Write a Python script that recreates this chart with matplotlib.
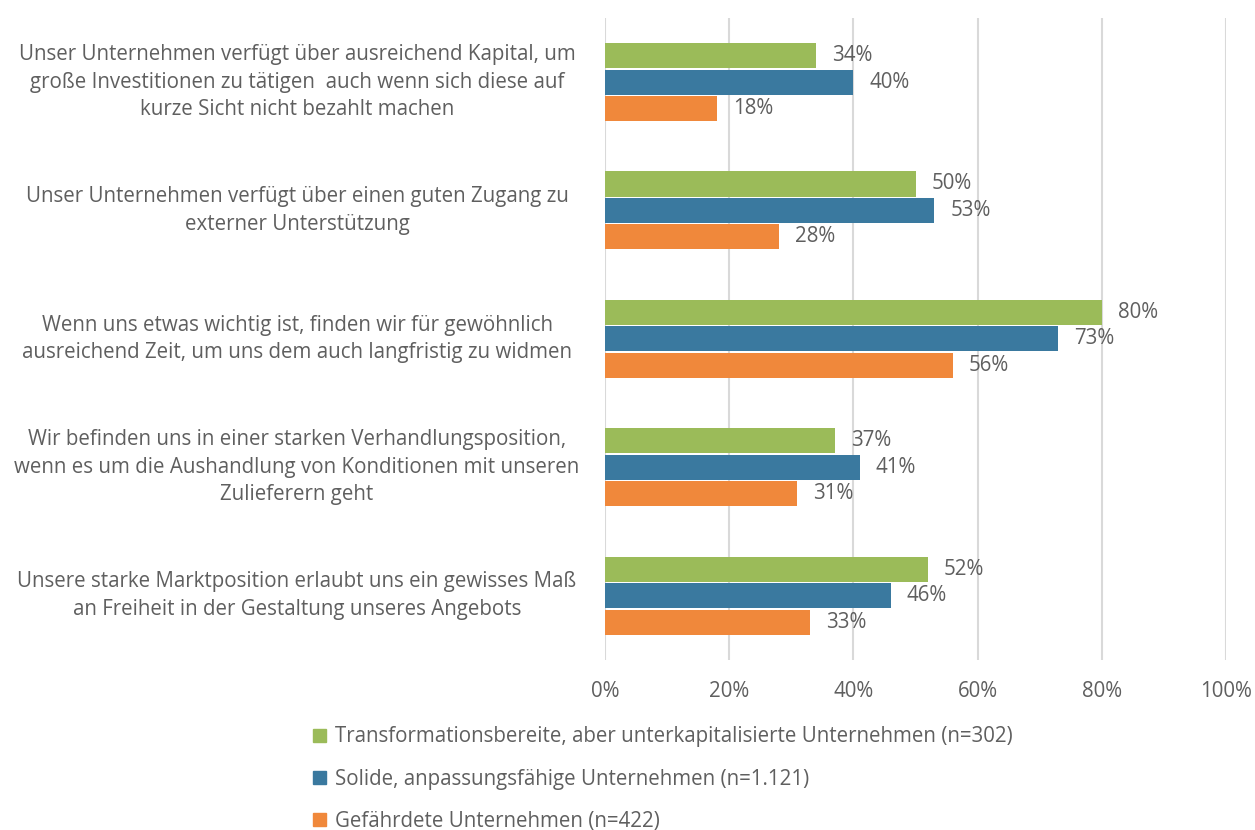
import matplotlib
matplotlib.use("Agg")
import matplotlib.pyplot as plt
import matplotlib.transforms as mtransforms
from matplotlib.patches import Patch
import numpy as np

plt.rcParams["font.family"] = ["Open Sans", "DejaVu Sans"]

categories = [
    "Unser Unternehmen verfügt über ausreichend Kapital, um\ngroße Investitionen zu tätigen  auch wenn sich diese auf\nkurze Sicht nicht bezahlt machen",
    "Unser Unternehmen verfügt über einen guten Zugang zu\nexterner Unterstützung",
    "Wenn uns etwas wichtig ist, finden wir für gewöhnlich\nausreichend Zeit, um uns dem auch langfristig zu widmen",
    "Wir befinden uns in einer starken Verhandlungsposition,\nwenn es um die Aushandlung von Konditionen mit unseren\nZulieferern geht",
    "Unsere starke Marktposition erlaubt uns ein gewisses Maß\nan Freiheit in der Gestaltung unseres Angebots",
]
series_names = [
    "Transformationsbereite, aber unterkapitalisierte Unternehmen (n=302)",
    "Solide, anpassungsfähige Unternehmen (n=1.121)",
    "Gefährdete Unternehmen (n=422)",
]
transformationsbereit = [34, 50, 80, 37, 52]
solide = [40, 53, 73, 41, 46]
gefaehrdet = [18, 28, 56, 31, 33]
colors = ["#9BBB59", "#3A799F", "#F0883B"]
ticks = [0, 20, 40, 60, 80, 100]

text_color = "#5f5f5f"
fs = 14.8

fig = plt.figure(figsize=(12.55, 8.3), dpi=100)
ax = fig.add_axes([0.482, 0.205, 0.495, 0.7735])

y = np.arange(len(categories))
h = 0.195
step = 0.206
for i, (vals, col, name) in enumerate(zip([transformationsbereit, solide, gefaehrdet], colors, series_names)):
    bars = ax.barh(y + (i - 1) * step, vals, height=h, color=col, label=name, zorder=3)
    ax.bar_label(bars, labels=[f"{v}%" for v in vals], padding=11.5, fontsize=fs,
                 color=text_color, zorder=4)

ax.set_xlim(0, 100)
ax.set_ylim(len(categories) - 0.5, -0.5)
ax.set_xticks(ticks)
ax.set_xticklabels([f"{t}%" for t in ticks], fontsize=fs, color=text_color)
ax.tick_params(axis="x", length=0, pad=15)
ax.set_yticks([])
ax.grid(axis="x", color="#d9d9d9", linewidth=1.5, zorder=0)
for s in ax.spines.values():
    s.set_visible(False)

trans = mtransforms.blended_transform_factory(fig.transFigure, ax.transData)
for yi, cat in zip(y, categories):
    ax.text(297 / 1255, yi, cat, transform=trans, ha="center", va="center",
            multialignment="center", fontsize=fs, color=text_color, linespacing=1.4)

handles = [Patch(color=c) for c in colors]
fig.legend(handles, series_names, loc="upper left", bbox_to_anchor=(303 / 1255, 1 - 716 / 830),
           frameon=False, fontsize=fs, labelcolor=text_color, handlelength=0.6,
           handleheight=0.6, handletextpad=0.45, labelspacing=1.04, borderpad=0)

fig.savefig("out.png", dpi=100)
